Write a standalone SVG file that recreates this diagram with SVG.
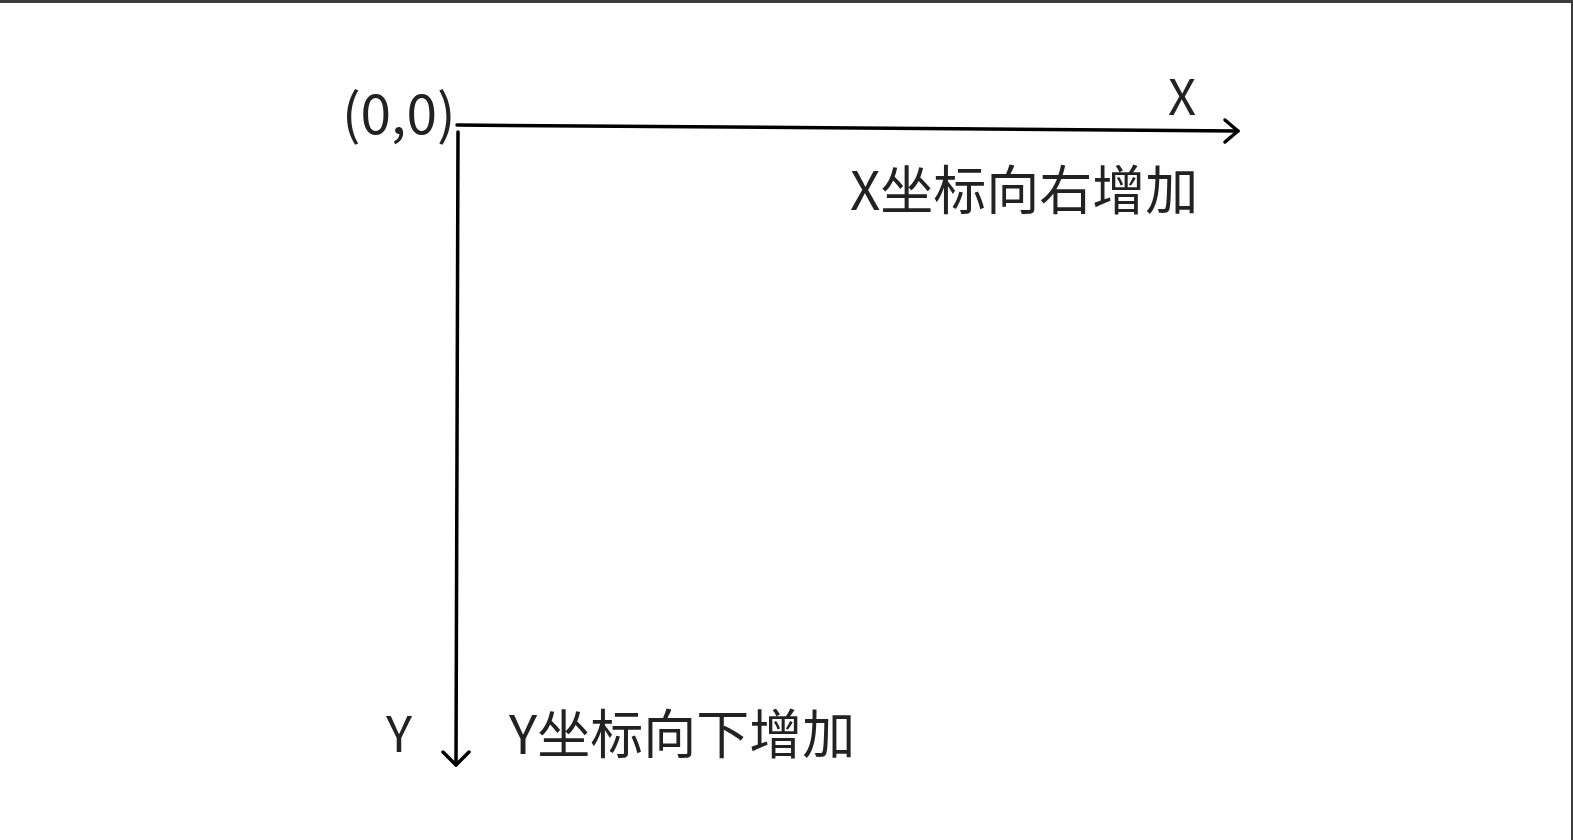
<svg xmlns="http://www.w3.org/2000/svg" width="1573" height="840" viewBox="0 0 1573 840">
<style>
.t{font-family:"Noto Sans CJK SC","Noto Sans",sans-serif;font-size:53px;fill:#222;}
.ax{stroke:#000;stroke-width:3.5;fill:none;stroke-linecap:round;stroke-linejoin:round;}
</style>
<rect width="1573" height="840" fill="#fff"/>
<rect x="0" y="0" width="1573" height="3" fill="#3c3c3c"/>
<rect x="1571" y="0" width="2" height="840" fill="#3c3c3c"/>
<g id="connectors">
<path class="ax" d="M457,125 L1238,131"/>
<path class="ax" d="M1225,120 L1238,131 L1225,142"/>
<path class="ax" d="M458,132 L456,765"/>
<path class="ax" d="M443,752 L456,765 L469,752"/>
</g>
<g id="origin"><text class="t" x="342" y="134" style="font-size:55px">(0,0)</text></g>
<g id="xlabel"><text class="t" x="1168" y="115" style="font-size:49px">X</text></g>
<g id="xdesc"><text class="t" x="850" y="210">X坐标向右增加</text></g>
<g id="ylabel"><text class="t" x="386" y="752" style="font-size:49px">Y</text></g>
<g id="ydesc"><text class="t" x="509" y="754">Y坐标向下增加</text></g>
</svg>
